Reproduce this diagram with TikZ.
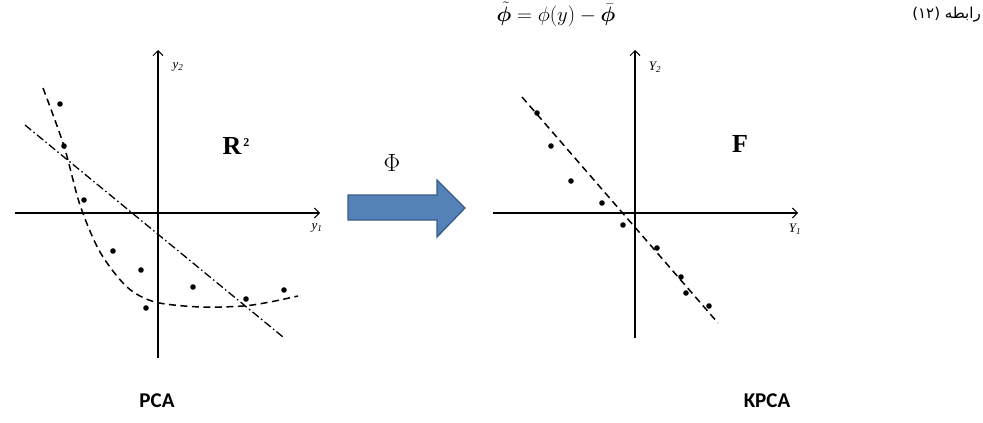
\documentclass[tikz,border=0pt]{standalone}
\usepackage{amsmath,amssymb,bm}
\usepackage{fontspec}
\setmainfont{Liberation Serif}
\newfontfamily\arabicfont[Script=Arabic]{DejaVu Sans}
\newfontfamily\calib{Carlito}
\TeXXeTstate=1
\usetikzlibrary{arrows.meta}
\definecolor{arrowfill}{RGB}{84,130,182}
\definecolor{arrowline}{RGB}{55,92,138}
\tikzset{
  axis/.style={line width=1.2pt,-{Straight Barb[length=5pt,width=10pt,line width=1pt]}},
  pt/.style={fill=black},
  fitcurve/.style={line width=1.5pt,dash pattern=on 7pt off 4.5pt},
  dashdotline/.style={line width=1.3pt,dash pattern=on 8pt off 3pt on 1.5pt off 3pt},
  axlab/.style={font=\fontsize{13}{14}\selectfont\itshape,inner sep=0pt},
  spacelab/.style={font=\fontsize{26}{28}\selectfont\bfseries,inner sep=0pt},
  caplab/.style={font=\calib\bfseries\fontsize{21}{24}\selectfont,inner sep=0pt},
  bigarrow/.style={fill=arrowfill,draw=arrowline,line width=1.3pt}
}
\begin{document}
\begin{tikzpicture}[x=1pt,y=-1pt]
\useasboundingbox (0,0) rectangle (983,423);
% equation and caption
\node[inner sep=0pt,anchor=base] (eq) at (556,21) {\fontsize{20}{22}\selectfont$\tilde{\bm{\phi}}=\phi(y)-\bar{\bm{\phi}}$};
\node[inner sep=0pt,anchor=east] (eqno) at (981,15) {\fontsize{15}{17}\selectfont\arabicfont\beginR رابطه (۱۲)\endR};
% ---------- left plot ----------
\coordinate (lxa) at (15,213);
\coordinate (lxb) at (320,213);
\coordinate (lya) at (158,358);
\coordinate (lyb) at (158,50);
\draw[axis] (lxa) -- (lxb);
\draw[axis] (lya) -- (lyb);
\node[axlab] (ly2) at (178,67) {y\textsubscript{2}};
\node[axlab] (ly1) at (317,228) {y\textsubscript{1}};
\node[spacelab] (r2) at (236,146) {R\hspace{2pt}\raisebox{8pt}{\fontsize{12}{12}\selectfont 2}};
\coordinate (dd1) at (25,125);
\coordinate (dd2) at (283,337);
\draw[dashdotline] (dd1) -- (dd2);
\draw[fitcurve] plot[smooth,tension=0.5] coordinates {(43,88) (64,146) (80,205) (100,252) (127,287) (155,302) (200,307) (243,306) (270,302) (298,296)};
\foreach \p in {(60,104),(64,146),(84,200),(113,251),(141,270),(146,308),(193,287),(246,299),(284,290)}
  \fill[pt] \p circle (2.8pt);
% ---------- arrow ----------
\draw[bigarrow] (348,195) -- (437,195) -- (437,180) -- (465,208) -- (437,237) -- (437,220) -- (348,220) -- cycle;
\node[inner sep=0pt,font=\fontsize{26}{28}\selectfont] (phi) at (392,163) {$\Phi$};
% ---------- right plot ----------
\coordinate (rxa) at (493,213);
\coordinate (rxb) at (798,213);
\coordinate (rya) at (635,338);
\coordinate (ryb) at (635,50);
\draw[axis] (rxa) -- (rxb);
\draw[axis] (rya) -- (ryb);
\node[axlab] (ry2) at (655,67) {Y\textsubscript{2}};
\node[axlab] (ry1) at (795,229) {Y\textsubscript{1}};
\node[spacelab] (f) at (740,144) {F};
\coordinate (rl1) at (522,97);
\coordinate (rl2) at (718,323);
\draw[fitcurve] (rl1) -- (rl2);
\foreach \p in {(537,113),(551,146),(571,181),(602,203),(623,225),(657,248),(681,277),(686,293),(709,306)}
  \fill[pt] \p circle (2.8pt);
% captions
\node[caplab] (pca) at (157,401) {PCA};
\node[caplab] (kpca) at (767,401) {KPCA};
\end{tikzpicture}
\end{document}
